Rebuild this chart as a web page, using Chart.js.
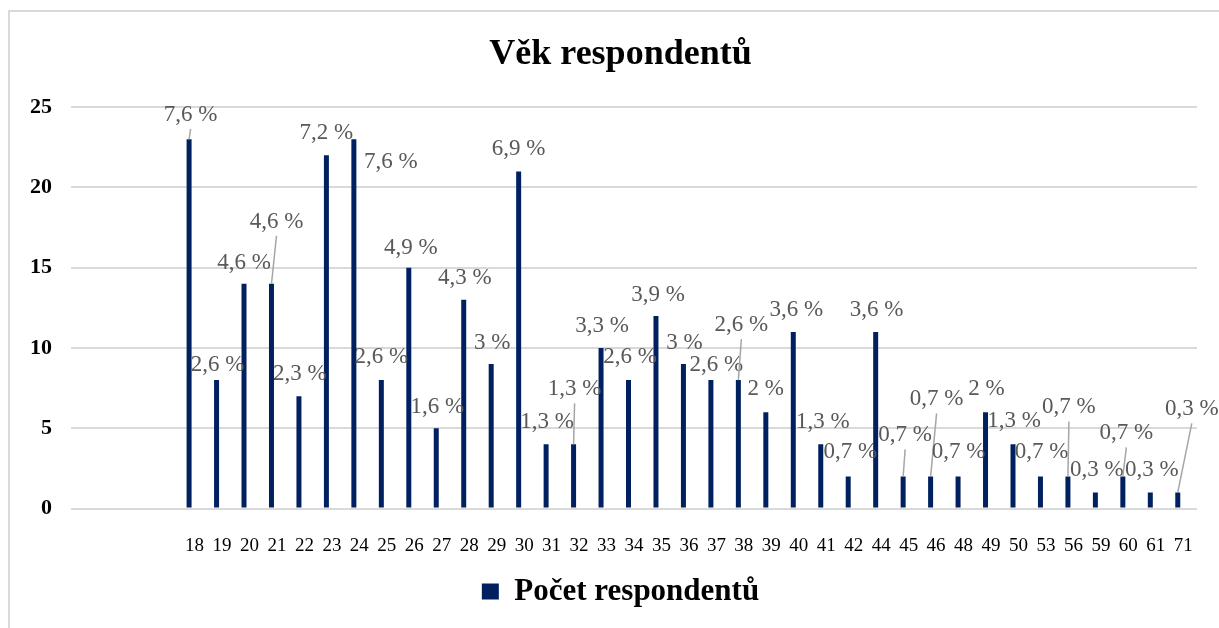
<!DOCTYPE html>
<html>
<head>
<meta charset="utf-8">
<script src="https://cdn.jsdelivr.net/npm/chart.js@4.4.1/dist/chart.umd.min.js"></script>
<style>
  body { margin: 0; background: #fff; overflow: hidden; }
  #wrap { position: relative; width: 1219px; height: 628px; overflow: hidden; }
  #frame { position: absolute; left: 8px; top: 10px; width: 1260px; height: 700px;
           border: 2px solid #d9d9d9; pointer-events: none; }
</style>
</head>
<body>
<div id="wrap">
  <canvas id="ageChart" width="1241" height="628"></canvas>
  <div id="frame"></div>
</div>
<script>
// Data (4 empty categories before 18, as in the source sheet)
const ages = ['', '', '', '', '18', '19', '20', '21', '22', '23', '24', '25', '26', '27', '28', '29', '30',
  '31', '32', '33', '34', '35', '36', '37', '38', '39', '40', '41', '42', '44', '45', '46', '48', '49',
  '50', '53', '56', '59', '60', '61', '71'];
const counts = [null, null, null, null, 23, 8, 14, 14, 7, 22, 23, 8, 15, 5, 13, 9, 21,
  4, 4, 10, 8, 12, 9, 8, 8, 6, 11, 4, 2, 11, 2, 2, 2, 6,
  4, 2, 2, 1, 2, 1, 1];
const percentLabels = ['', '', '', '', '7,6 %', '2,6 %', '4,6 %', '4,6 %', '2,3 %', '7,2 %', '7,6 %', '2,6 %', '4,9 %', '1,6 %', '4,3 %', '3 %', '6,9 %',
  '1,3 %', '1,3 %', '3,3 %', '2,6 %', '3,9 %', '3 %', '2,6 %', '2,6 %', '2 %', '3,6 %', '1,3 %', '0,7 %', '3,6 %', '0,7 %', '0,7 %', '0,7 %', '2 %',
  '1,3 %', '0,7 %', '0,7 %', '0,3 %', '0,7 %', '0,3 %', '0,3 %'];
const yTicks = [0, 5, 10, 15, 20, 25];
// empty companion series: keeps the count bars left of the tick, as in the original sheet
const spacer = ages.map(() => null);

// Where each percent label sits relative to the top of its bar (px), and whether it has a leader line
const labelDx = [0, 0, 0, 0, 1.5, 1, 0, 5, 1, 0, 37, 0, 2, 1, 1, 1, 0,
  1, 1, 1, 1.5, 2, 1, 5.5, 3, 0, 3, 2, 2, 1, 2, 6, 0.5, 1,
  1, 1, 1, 1.5, 3.5, 1.5, 14];
const labelDy = [0, 0, 0, 0, -25.5, -16, -22, -63, -23, -23, 22, -24, -21, -22, -22.5, -22, -23,
  -23, -56, -23.5, -24, -22, -22, -16, -56, -24, -22.5, -23, -25, -22.5, -42, -78, -25, -24,
  -24, -25.5, -70, -23, -44, -23, -84];
const leaders = [0, 0, 0, 0, 1, 0, 0, 1, 0, 0, 0, 0, 0, 0, 0, 0, 0,
  0, 1, 0, 0, 0, 0, 0, 1, 0, 0, 0, 0, 0, 1, 1, 0, 0,
  0, 0, 1, 0, 1, 0, 1];

const serif = "'Liberation Serif', 'Times New Roman', serif";

// Draw percent labels with leader lines
const percentPlugin = {
  id: 'percentLabels',
  afterDatasetsDraw(chart) {
    const ctx = chart.ctx;
    const meta = chart.getDatasetMeta(0);
    ctx.save();
    ctx.font = '23px ' + serif;
    ctx.textAlign = 'center';
    ctx.textBaseline = 'middle';
    meta.data.forEach((bar, i) => {
      if (counts[i] === null) return;
      const lx = bar.x + labelDx[i];
      const ly = bar.y + labelDy[i];
      if (leaders[i]) {
        ctx.strokeStyle = '#a6a6a6';
        ctx.lineWidth = 1.5;
        ctx.beginPath();
        ctx.moveTo(lx, ly + 15);
        ctx.lineTo(bar.x, bar.y);
        ctx.stroke();
      }
      ctx.fillStyle = '#595959';
      ctx.fillText(percentLabels[i], lx, ly + 1);
    });
    ctx.restore();
  }
};

const ctx = document.getElementById('ageChart').getContext('2d');
const chart = new Chart(ctx, {
  type: 'bar',
  data: {
    labels: ages,
    datasets: [{
      label: 'Počet respondentů',
      data: counts,
      backgroundColor: '#002060',
      categoryPercentage: 0.8,
      barPercentage: 0.455
    }, {
      label: '',
      data: spacer,
      backgroundColor: 'rgba(0,0,0,0)',
      categoryPercentage: 0.8,
      barPercentage: 0.455
    }]
  },
  options: {
    responsive: false,
    animation: false,
    devicePixelRatio: 1,
    layout: { padding: { left: 0, right: 0, top: 0, bottom: 11 } },
    plugins: {
      title: {
        display: true,
        text: 'Věk respondentů',
        color: '#000',
        font: { family: serif, size: 36, weight: 'bold' },
        padding: { top: 33, bottom: 31 }
      },
      legend: {
        position: 'bottom',
        labels: {
          color: '#000',
          font: { family: serif, size: 31, weight: 'bold' },
          boxWidth: 17,
          boxHeight: 16,
          padding: 10,
          filter: (item) => item.text !== ''
        }
      },
      tooltip: { enabled: false }
    },
    scales: {
      x: {
        grid: { display: false },
        border: { display: false },
        ticks: {
          color: '#000',
          font: { family: serif, size: 19 },
          padding: 18,
          maxRotation: 0,
          autoSkip: false
        },
        afterFit(scale) { scale.height = 57.5; }
      },
      y: {
        min: 0,
        max: 25,
        afterBuildTicks(scale) { scale.ticks = yTicks.map(v => ({ value: v })); },
        grid: { color: '#d9d9d9', lineWidth: 2, drawTicks: false },
        border: { display: false },
        ticks: {
          color: '#000',
          font: { family: serif, size: 22, weight: 'bold' },
          padding: 19
        },
        afterFit(scale) { scale.width = 71; }
      },
      // blank right-hand axis: the chart frame runs past the picture's right edge
      yRight: {
        position: 'right',
        display: true,
        grid: { display: false },
        border: { display: false },
        ticks: { display: false },
        afterFit(scale) { scale.width = 44; }
      }
    }
  },
  plugins: [percentPlugin]
});
</script>
</body>
</html>
